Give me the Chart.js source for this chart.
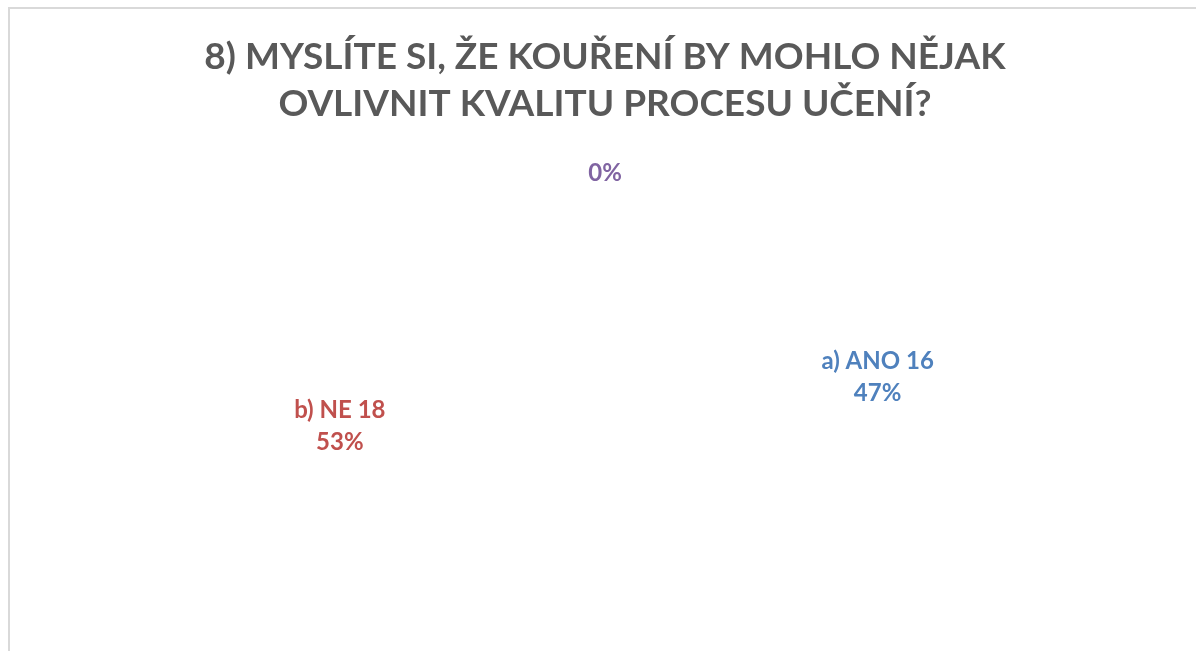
<!DOCTYPE html>
<html>
<head>
<meta charset="utf-8">
<script src="https://cdn.jsdelivr.net/npm/chart.js@4/dist/chart.umd.min.js"></script>
<style>
    html, body { margin: 0; padding: 0; background: #fff; overflow: hidden; }
    #ramecek {
        position: absolute; left: 8px; top: 7px;
        width: 1200px; height: 660px;
        border: 2px solid #d9d9d9; box-sizing: border-box;
    }
    #obal { position: absolute; left: 0; top: 0; width: 1196px; height: 651px; }
</style>
</head>
<body>
<div id="ramecek"></div>
<div id="obal"><canvas id="graf"></canvas></div>
<script>
// data grafu
const kategorie = ['a) ANO', 'b) NE', ''];
const hodnoty = [16, 18, 0];
const barvyPopisku = ['#4f81bd', '#c0504d', '#8064a2'];
const nadpis = ['8) MYSLÍTE SI, ŽE KOUŘENÍ BY MOHLO NĚJAK', 'OVLIVNIT KVALITU PROCESU UČENÍ?'];

const pismo = 'Lato, "Open Sans", sans-serif';

// vzdálenost popisku od středu (násobek poloměru)
const odsazeniPopisku = [1.1, 1.07, 0.92];

// popisky u výsečí (výseče samotné jsou bez výplně)
const popiskyPlugin = {
    id: 'popisky',
    afterDatasetsDraw(chart) {
        const ctx = chart.ctx;
        const meta = chart.getDatasetMeta(0);
        const soucet = hodnoty.reduce((a, b) => a + b, 0);
        ctx.save();
        ctx.font = 'bold 24px ' + pismo;
        ctx.textAlign = 'center';
        ctx.textBaseline = 'middle';
        meta.data.forEach((oblouk, i) => {
            const p = oblouk.getProps(['x', 'y', 'startAngle', 'endAngle', 'outerRadius'], true);
            const uhel = (p.startAngle + p.endAngle) / 2;
            const r = p.outerRadius * odsazeniPopisku[i];
            const x = p.x + Math.cos(uhel) * r;
            const y = p.y + Math.sin(uhel) * r;
            const procenta = Math.round(hodnoty[i] / soucet * 100) + '%';
            const radky = kategorie[i] ? [kategorie[i] + ' ' + hodnoty[i], procenta] : [procenta];
            ctx.fillStyle = barvyPopisku[i];
            const vyska = 32;
            radky.forEach((t, j) => {
                ctx.fillText(t, x, y + (j - (radky.length - 1) / 2) * vyska);
            });
        });
        ctx.restore();
    }
};

new Chart(document.getElementById('graf'), {
    type: 'pie',
    data: {
        labels: kategorie,
        datasets: [{
            data: hodnoty,
            backgroundColor: 'rgba(0,0,0,0)',
            borderWidth: 0
        }]
    },
    options: {
        responsive: true,
        maintainAspectRatio: false,
        animation: false,
        layout: { padding: { left: 14, top: 0, bottom: 0, right: 0 } },
        plugins: {
            legend: { display: false },
            tooltip: { enabled: false },
            title: {
                display: true,
                text: nadpis,
                color: '#595959',
                font: { family: pismo, size: 37, weight: 'bold', lineHeight: 1.26 },
                padding: { top: 34, bottom: 26 }
            }
        }
    },
    plugins: [popiskyPlugin]
});
</script>
</body>
</html>
